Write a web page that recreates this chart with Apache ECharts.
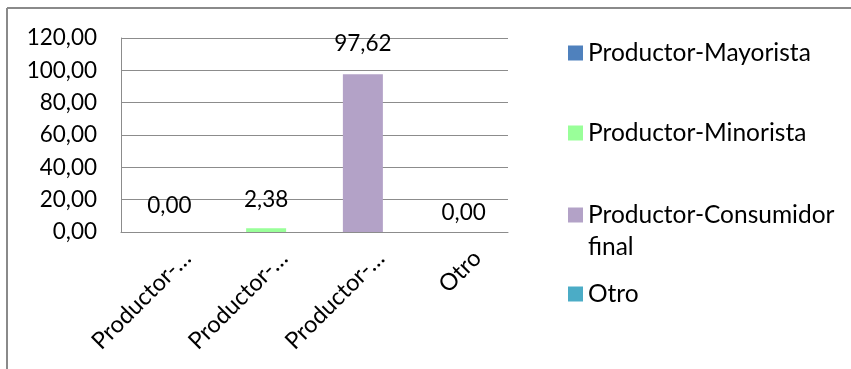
<!DOCTYPE html>
<html>
<head>
<meta charset="utf-8">
<script src="https://cdn.jsdelivr.net/npm/echarts@6/dist/echarts.min.js"></script>
<style>
  html, body { margin: 0; padding: 0; background: #fff; }
  #chart { width: 851px; height: 369px; }
</style>
</head>
<body>
<div id="chart"></div>
<script>
// Distribution channels (percent of producers)
const categories = ['Productor-Mayorista', 'Productor-Minorista', 'Productor-Consumidor final', 'Otro'];
const seriesNames = ['Productor-Mayorista', 'Productor-Minorista', 'Productor-Consumidor final', 'Otro'];
const values = [0.00, 2.38, 97.62, 0.00];
const yTicks = [0, 20, 40, 60, 80, 100, 120];

const colors = ['#4F81BD', '#99FF99', '#B3A2C7', '#4BACC6'];
const FONT = 'Lato';
const AXIS_GREY = '#8c8c8c';

const fmt = v => Number(v).toFixed(2).replace('.', ',');

// Per-series label placement (lift above the bar top, horizontal nudge)
const labelLift = [15, 17, 19, 8];
const labelShift = [0, 0, 0, 4];

// Each channel is its own series, holding a value only in its own category
const series = seriesNames.map((name, i) => ({
  name: name,
  type: 'bar',
  stack: 'canal',
  barWidth: 40,
  itemStyle: { color: colors[i] },
  data: categories.map((c, j) => (j === i ? values[i] : '-')),
  label: {
    show: true,
    position: 'top',
    distance: 0,
    offset: [labelShift[i], -labelLift[i]],
    formatter: p => fmt(p.value),
    fontFamily: FONT,
    fontSize: 22.5,
    color: '#000'
  }
}));

// One legend block per series so the vertical spacing can follow the layout
const legendTops = [37, 117, 167, 278];
const legends = seriesNames.map((name, i) => ({
  data: [name],
  left: 568,
  top: legendTops[i],
  padding: 0,
  icon: 'rect',
  itemWidth: 15,
  itemHeight: 15,
  itemGap: 0,
  selectedMode: false,
  // the long name wraps; a leading blank line keeps its first line beside the swatch
  formatter: n => (n === 'Productor-Consumidor final' ? ' \nProductor-Consumidor\nfinal' : n),
  textStyle: {
    fontFamily: FONT,
    fontSize: 24.5,
    color: '#000',
    lineHeight: 32
  }
}));

const chart = echarts.init(document.getElementById('chart'), null, { renderer: 'canvas' });
chart.setOption({
  animation: false,
  backgroundColor: '#fff',
  textStyle: { fontFamily: FONT },
  legend: legends,
  grid: { left: 121, top: 38, width: 387, height: 194, containLabel: false },
  xAxis: {
    type: 'category',
    data: categories,
    axisLine: { show: true, lineStyle: { color: AXIS_GREY, width: 1 } },
    axisTick: { show: false },
    axisLabel: {
      interval: 0,
      rotate: 45,
      margin: 40,
      padding: [0, -25, 0, 0],
      fontFamily: FONT,
      fontSize: 23.5,
      color: '#000',
      formatter: n => (n.length > 10 ? n.slice(0, 10) + '…' : n)
    }
  },
  yAxis: {
    type: 'value',
    min: yTicks[0],
    max: yTicks[yTicks.length - 1],
    interval: yTicks[1] - yTicks[0],
    axisLine: { show: true, lineStyle: { color: AXIS_GREY, width: 1 } },
    axisTick: { show: false },
    splitLine: { show: true, lineStyle: { color: AXIS_GREY, width: 1 } },
    axisLabel: {
      margin: 24,
      fontFamily: FONT,
      fontSize: 22.5,
      color: '#000',
      formatter: v => fmt(v)
    }
  },
  graphic: [
    { type: 'line', shape: { x1: 7, y1: 8, x2: 851, y2: 8 }, style: { stroke: '#8a8a8a', lineWidth: 2 } },
    { type: 'line', shape: { x1: 7, y1: 8, x2: 7, y2: 369 }, style: { stroke: '#8a8a8a', lineWidth: 2 } }
  ],
  series: series
});
</script>
</body>
</html>
